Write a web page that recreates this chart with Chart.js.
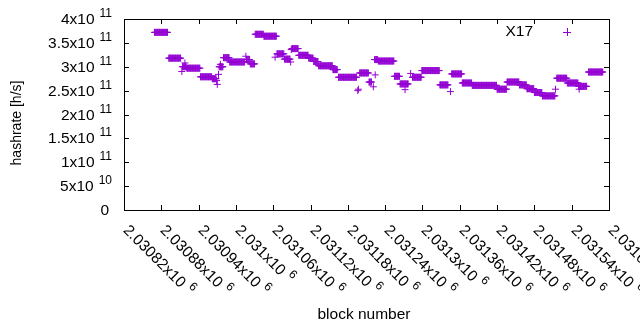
<!DOCTYPE html>
<html>
<head>
<meta charset="utf-8">
<script src="https://cdn.jsdelivr.net/npm/chart.js@4.4.1/dist/chart.umd.min.js"></script>
<style>
  html, body { margin: 0; padding: 0; background: #fff; }
  #wrap { width: 640px; height: 330px; }
</style>
</head>
<body>
<div id="wrap"><canvas id="chart" width="640" height="330"></canvas></div>
<script>
// runs of consecutive blocks that share one hashrate reading (single blocks have start == end)
const runStart = [
  2030869, 2030892, 2030913, 2030914, 2030918, 2030921, 2030943, 2030962, 2030969, 2030970,
  2030972, 2030973, 2030975, 2030980, 2030990, 2031016, 2031017, 2031023, 2031031, 2031045,
  2031063, 2031066, 2031078, 2031088, 2031089, 2031090, 2031101, 2031117, 2031125, 2031133,
  2031156, 2031165, 2031196, 2031197, 2031199, 2031214, 2031221, 2031224, 2031223, 2031229,
  2031255, 2031264, 2031272, 2031281, 2031284, 2031299, 2031328, 2031345, 2031347, 2031364,
  2031380, 2031420, 2031436, 2031456, 2031468, 2031480, 2031493, 2031514, 2031516, 2031533,
  2031551, 2031552, 2031567
];
const runEnd = [
  2030890, 2030911, 2030913, 2030920, 2030918, 2030942, 2030961, 2030968, 2030969, 2030970,
  2030972, 2030979, 2030975, 2030989, 2031014, 2031016, 2031022, 2031030, 2031044, 2031065,
  2031063, 2031077, 2031087, 2031088, 2031089, 2031100, 2031116, 2031124, 2031132, 2031155,
  2031163, 2031194, 2031196, 2031197, 2031213, 2031218, 2031221, 2031224, 2031228, 2031254,
  2031263, 2031277, 2031272, 2031281, 2031298, 2031327, 2031341, 2031345, 2031363, 2031379,
  2031419, 2031435, 2031455, 2031467, 2031479, 2031492, 2031513, 2031514, 2031532, 2031550,
  2031564, 2031552, 2031590
];
const runRate = [
  3.72e11, 3.18e11, 2.90e11, 3.00e11, 3.08e11, 2.97e11, 2.79e11, 2.75e11, 2.71e11, 2.63e11,
  2.84e11, 3.00e11, 3.05e11, 3.19e11, 3.10e11, 3.22e11, 3.15e11, 3.06e11, 3.68e11, 3.64e11,
  3.20e11, 3.27e11, 3.16e11, 3.10e11, 3.36e11, 3.38e11, 3.24e11, 3.18e11, 3.11e11, 3.02e11,
  2.94e11, 2.78e11, 2.50e11, 2.53e11, 2.87e11, 2.68e11, 2.58e11, 2.83e11, 3.15e11, 3.12e11,
  2.80e11, 2.64e11, 2.52e11, 2.86e11, 2.78e11, 2.92e11, 2.62e11, 2.48e11, 2.85e11, 2.66e11,
  2.61e11, 2.53e11, 2.68e11, 2.62e11, 2.54e11, 2.46e11, 2.39e11, 2.53e11, 2.76e11, 2.66e11,
  2.59e11, 2.53e11, 2.89e11
];

const seriesName = 'X17';
const xTitle = 'block number';
const yTitle = 'hashrate [h/s]';
const xMin = 2030820, xMax = 2031600, xStep = 60;
const yMin = 0, yMax = 4e11, yStep = 5e10;

const purple = '#9400d3';
const family = '"Liberation Sans", Arial, sans-serif';
const bigFont = '15.5px ' + family;
const supFont = '12px ' + family;
const yTitleFont = '14px ' + family;

function buildPoints() {
  const pts = [];
  runStart.forEach((start, i) => {
    for (let b = start; b <= runEnd[i]; b++) {
      pts.push({ x: b, y: runRate[i] });
    }
  });
  return pts;
}

// "2.03082x10" + "6" like gnuplot's %t x10^{%T}
function sciParts(v) {
  if (v === 0) return ['0', ''];
  const e = Math.floor(Math.log10(v) + 1e-9);
  const m = +(v / Math.pow(10, e)).toPrecision(6);
  return [m + 'x10', String(e)];
}

// gnuplot-like frame, mirrored inward ticks, labels with raised exponents
const gnuplotFrame = {
  id: 'gnuplotFrame',
  afterDraw(chart) {
    const { ctx, chartArea: a, scales: { x, y } } = chart;
    const tick = 5;
    ctx.save();
    ctx.strokeStyle = '#000';
    ctx.fillStyle = '#000';
    ctx.lineWidth = 1;
    ctx.strokeRect(a.left + 0.5, a.top + 0.5, a.right - a.left, a.bottom - a.top);

    // y ticks + labels
    y.ticks.forEach(t => {
      const py = Math.round(y.getPixelForValue(t.value)) + 0.5;
      ctx.beginPath();
      ctx.moveTo(a.left, py); ctx.lineTo(a.left + tick, py);
      ctx.moveTo(a.right, py); ctx.lineTo(a.right - tick, py);
      ctx.stroke();

      const [mant, exp] = sciParts(t.value);
      ctx.textBaseline = 'middle';
      ctx.textAlign = 'right';
      if (!exp) {
        ctx.font = bigFont;
        ctx.fillText(mant, a.left - 15, py);
        return;
      }
      const right = a.left - 12;
      ctx.font = supFont;
      const ew = ctx.measureText(exp).width;
      ctx.fillText(exp, right, py - 6);
      ctx.font = bigFont;
      ctx.fillText(mant, right - ew - 5, py);
    });

    // x ticks + rotated labels
    x.ticks.forEach(t => {
      const px = Math.round(x.getPixelForValue(t.value)) + 0.5;
      ctx.beginPath();
      ctx.moveTo(px, a.bottom); ctx.lineTo(px, a.bottom - tick);
      ctx.moveTo(px, a.top); ctx.lineTo(px, a.top + tick);
      ctx.stroke();

      const [mant, exp] = sciParts(t.value);
      ctx.save();
      ctx.translate(px + 1, a.bottom + 18);
      ctx.rotate(Math.PI / 4);
      ctx.textAlign = 'left';
      ctx.textBaseline = 'middle';
      ctx.font = bigFont;
      const mw = ctx.measureText(mant).width;
      ctx.fillText(mant, 0, 0);
      ctx.font = supFont;
      ctx.fillText(exp, mw + 5, -6);
      ctx.restore();
    });

    // axis titles
    ctx.font = bigFont;
    ctx.textAlign = 'center';
    ctx.textBaseline = 'middle';
    ctx.fillText(xTitle, 364, 315);
    ctx.save();
    ctx.font = yTitleFont;
    ctx.translate(17, 123);
    ctx.rotate(-Math.PI / 2);
    ctx.fillText(yTitle, 0, 0);
    ctx.restore();

    // key, top right
    ctx.font = bigFont;
    ctx.textAlign = 'right';
    ctx.fillText(seriesName, 533, 32);
    ctx.strokeStyle = purple;
    ctx.beginPath();
    ctx.moveTo(563, 32.5); ctx.lineTo(571, 32.5);
    ctx.moveTo(567.5, 28); ctx.lineTo(567.5, 36);
    ctx.stroke();
    ctx.restore();
  }
};

const chart = new Chart(document.getElementById('chart'), {
  type: 'scatter',
  data: {
    datasets: [{
      label: seriesName,
      data: buildPoints(),
      showLine: false,
      pointStyle: 'cross',
      pointRadius: 3.5,
      pointBorderWidth: 1,
      borderColor: purple,
      backgroundColor: purple
    }]
  },
  options: {
    responsive: false,
    animation: false,
    events: [],
    layout: { padding: { top: 19, right: 31, left: 0, bottom: 0 } },
    plugins: {
      legend: { display: false },
      tooltip: { enabled: false }
    },
    scales: {
      x: {
        type: 'linear',
        min: xMin,
        max: xMax,
        ticks: { stepSize: xStep, display: false },
        grid: { display: false },
        border: { display: false },
        afterFit: s => { s.height = 120; }
      },
      y: {
        min: yMin,
        max: yMax,
        ticks: { stepSize: yStep, display: false },
        grid: { display: false },
        border: { display: false },
        afterFit: s => { s.width = 124; }
      }
    }
  },
  plugins: [gnuplotFrame]
});
</script>
</body>
</html>
